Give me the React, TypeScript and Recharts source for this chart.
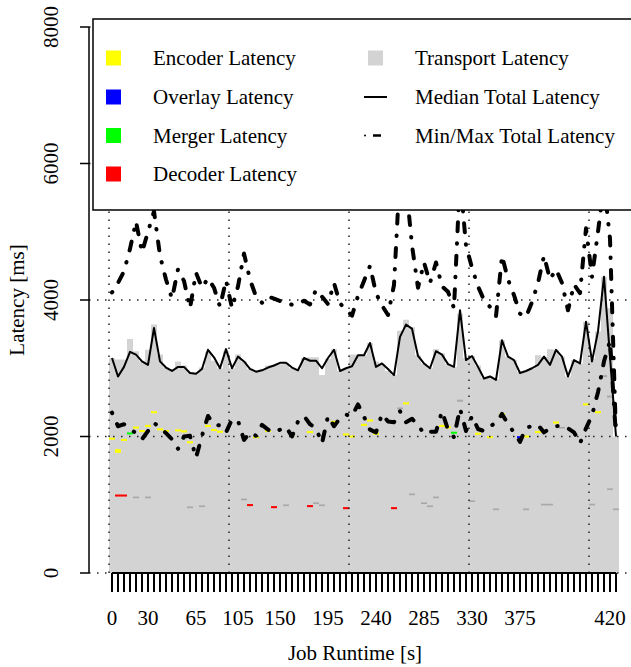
import { Bar, ComposedChart, Label, Line, ReferenceLine, XAxis, YAxis } from 'recharts';

const SERIF = "'Liberation Serif', 'Times New Roman', Times, serif";

// job runtime [s] of each sampling window (one bar each)
const runtimes = [
  0, 5, 10, 15, 20, 25, 30,
  34, 38, 43, 47, 52, 56, 61, 65,
  71, 77, 82, 88, 94, 99, 105,
  111, 118, 124, 131, 137, 144, 150,
  156, 161, 167, 172, 178, 184, 189, 195,
  201, 206, 212, 217, 223, 229, 234, 240,
  246, 251, 257, 262, 268, 273, 279, 285,
  291, 296, 302, 307, 313, 318, 324, 330,
  336, 341, 347, 352, 358, 364, 369, 375,
  378, 381, 384, 387, 390, 393, 396, 399, 402, 405, 408, 411, 414, 417, 420,
  423,
];

const transport = [
  3150, 3130, 3130, 3430, 3250, 3100, 3270, 3640, 3200, 3010,
  2990, 3100, 3040, 2940, 2930, 3010, 3240, 3110, 3000, 3250,
  3000, 3200, 3100, 2990, 2960, 2980, 3040, 3040, 3060, 3080,
  3000, 2980, 3150, 3160, 3160, 2900, 3140, 3280, 2960, 2990,
  3200, 3200, 3190, 3370, 3100, 3060, 2960, 2900, 3550, 3710,
  3600, 3190, 3070, 3000, 3280, 3220, 3060, 3020, 3800, 3150,
  3180, 3040, 2860, 2880, 2840, 3410, 3170, 3120, 2940, 2960,
  3000, 3190, 3170, 3280, 3270, 3170, 2880, 3120, 3070, 3680,
  3140, 3540, 4340, 3880, 2000,
];

const medianTotal = [
  3150, 2880, 3020, 3240, 3200, 3100, 3050, 3590, 3100, 3010,
  2960, 3020, 3020, 2930, 2920, 2990, 3270, 3160, 3000, 3280,
  3000, 3170, 3100, 2990, 2950, 2970, 3010, 3040, 3080, 3080,
  3010, 2970, 3150, 3110, 3110, 3000, 3150, 3270, 2960, 3000,
  3030, 3190, 3190, 3370, 3020, 3070, 2990, 2900, 3460, 3640,
  3580, 3180, 3070, 3000, 3250, 3200, 3060, 3020, 3850, 3120,
  3180, 3020, 2850, 2880, 2830, 3410, 3170, 3120, 2930, 2960,
  3000, 3050, 3170, 3050, 3270, 3170, 2880, 3120, 3070, 3680,
  3100, 3540, 4340, 3170, 2000,
];

const maxTotal = [
  4110, 4250, 4420, 4750, 5150, 4700, 5000, 5300, 4650, 4300,
  4020, 4450, 4280, 3880, 4400, 4180, 4320, 4180, 3900, 4290,
  3880, 4200, 4680, 4300, 4050, 3960, 4050, 4020, 3985, 3960,
  3930, 3940, 3990, 3935, 4150, 4050, 3940, 4250, 3950, 3860,
  3770, 4060, 4280, 4500, 4100, 3920, 3780, 4220, 5900, 5700,
  4800, 4180, 4550, 4250, 4550, 4200, 4120, 3880, 5800, 4800,
  4470, 4200, 4000, 3900, 3760, 4650, 4300, 4070, 3800, 3750,
  3970, 4250, 4650, 4300, 4450, 4250, 3850, 4230, 4100, 5050,
  4340, 5000, 5700, 4900, 2000,
];

const minTotal = [
  2350, 2150, 2180, 2110, 2050, 1960, 2080, 2200, 2130, 2050,
  1960, 1820, 2000, 2010, 1690, 2010, 2300, 2180, 2160, 2060,
  2250, 2230, 1950, 2060, 2010, 2170, 2100, 2060, 2100, 2140,
  2000, 2220, 2300, 2180, 2120, 1900, 2300, 2150, 2270, 2320,
  2300, 2470, 2290, 2100, 2060, 2330, 2220, 2210, 2370, 2210,
  2260, 2170, 2040, 2070, 2070, 2370, 2100, 1990, 2410, 2080,
  2300, 2110, 2080, 2150, 2200, 2330, 2180, 2060, 1920, 2130,
  2150, 2170, 2060, 2120, 2150, 2160, 2120, 2060, 1900, 2120,
  2310, 2650, 3100, 3400, 2000,
];

// [bar index, segment bottom, segment top] in ms
const encoderMarks = [
  [0, 1953, 1983], [1, 1760, 1815], [2, 1935, 1965], [4, 2115, 2145], [5, 2065, 2095],
  [6, 2140, 2170], [7, 2340, 2370], [8, 2090, 2120], [9, 2065, 2095], [11, 2075, 2105],
  [12, 2060, 2090], [13, 1900, 1930], [16, 2140, 2170], [17, 2080, 2110], [18, 2055, 2085],
  [24, 1975, 2005], [26, 2065, 2095], [30, 2015, 2045], [33, 2050, 2080], [37, 2200, 2230],
  [39, 2015, 2045], [40, 1985, 2015], [42, 2155, 2185], [43, 2220, 2250], [44, 2025, 2055],
  [49, 2470, 2500], [55, 2140, 2170], [56, 2120, 2150], [61, 2025, 2055], [63, 1975, 2005],
  [65, 2310, 2340], [69, 1985, 2015], [71, 2050, 2080], [74, 2190, 2220], [79, 2455, 2485],
  [81, 2340, 2370],
];
const overlayMarks = [[68, 1975, 2005]];
const mergerMarks = [[3, 2030, 2060], [57, 2040, 2070]];
const decoderMarks = [
  [1, 1120, 1150], [2, 1120, 1150], [23, 980, 1010], [27, 950, 980],
  [33, 965, 995], [39, 935, 965], [47, 935, 965],
];
const edgeMarksLow = [
  [4, 1095, 1120], [6, 1095, 1120], [13, 950, 975], [15, 965, 990], [22, 1065, 1090],
  [29, 980, 1005], [34, 1010, 1035], [35, 980, 1005], [50, 1140, 1165], [52, 1010, 1035],
  [53, 965, 990], [54, 1095, 1120], [60, 1040, 1065], [64, 920, 945], [69, 920, 945],
  [72, 990, 1015], [73, 990, 1015], [80, 990, 1015], [83, 1215, 1240], [84, 920, 945],
];
const edgeMarksHigh = [
  [48, 2400, 2425], [58, 2510, 2540], [75, 2115, 2140], [82, 2870, 2900], [83, 2570, 2600],
];

const xTickLabels = [0, 30, 65, 105, 150, 195, 240, 285, 330, 375, 420];
const yTicks = [0, 2000, 4000, 6000, 8000];
const gridBars = [0, 20, 40, 60, 80];

const markSeries = [
  { key: 'edgeLow', color: '#A9A9A9', marks: edgeMarksLow },
  { key: 'edgeHigh', color: '#A9A9A9', marks: edgeMarksHigh },
  { key: 'decoder', color: '#FF0000', marks: decoderMarks },
  { key: 'merger', color: '#00FF00', marks: mergerMarks },
  { key: 'overlay', color: '#0000FF', marks: overlayMarks },
  { key: 'encoder', color: '#FFFF00', marks: encoderMarks },
];

const legendSquares = [
  { name: 'Encoder Latency', color: '#FFFF00' },
  { name: 'Overlay Latency', color: '#0000FF' },
  { name: 'Merger Latency', color: '#00FF00' },
  { name: 'Decoder Latency', color: '#FF0000' },
];

const rows: Record<string, any>[] = runtimes.map((t, i) => ({
  t,
  transport: transport[i],
  median: medianTotal[i],
  max: maxTotal[i],
  min: minTotal[i],
}));
markSeries.forEach((s) => {
  s.marks.forEach(([i, lo, hi]) => {
    rows[i][s.key] = [lo, hi];
  });
});

const PAD = { left: 20, right: 20 };
const DOTTED = { stroke: '#222', strokeWidth: 1.5, strokeDasharray: '1.5 6.5' };
const FONT = { fontFamily: SERIF, fontSize: 21 };

function RuntimeTick({ x, y, payload }: any) {
  const show = xTickLabels.includes(payload.value);
  return (
    <g>
      <line x1={x} x2={x} y1={y} y2={y + 19} stroke="#000" strokeWidth={2} />
      {show && (
        <text x={x} y={y + 52} textAnchor="middle" style={FONT} fill="#000">
          {payload.value}
        </text>
      )}
    </g>
  );
}

function LatencyTick({ x, y, payload }: any) {
  const bx = x - 22;
  return (
    <text
      x={bx}
      y={y}
      transform={`rotate(-90, ${bx}, ${y})`}
      textAnchor="middle"
      style={FONT}
      fill="#000"
    >
      {payload.value}
    </text>
  );
}

function LegendBox() {
  const rowY = [58, 97, 135.5, 174];
  return (
    <svg width={631} height={667} style={{ position: 'absolute', left: 0, top: 0 }}>
      <rect x={93} y={19} width={560} height={191} fill="#fff" stroke="#000" strokeWidth={1.5} />
      {legendSquares.map((it, k) => (
        <g key={it.name}>
          <rect x={106} y={rowY[k] - 7.5} width={15} height={15} fill={it.color} />
          <text x={153} y={rowY[k] + 7} style={FONT} fill="#000">{it.name}</text>
        </g>
      ))}
      <rect x={368} y={rowY[0] - 7.5} width={15} height={15} fill="#D3D3D3" />
      <text x={415} y={rowY[0] + 7} style={FONT} fill="#000">Transport Latency</text>
      <line x1={364} x2={387} y1={rowY[1]} y2={rowY[1]} stroke="#000" strokeWidth={2} />
      <text x={415} y={rowY[1] + 7} style={FONT} fill="#000">Median Total Latency</text>
      <circle cx={365} cy={rowY[2]} r={1} fill="#000" />
      <line x1={373} x2={381} y1={rowY[2]} y2={rowY[2]} stroke="#000" strokeWidth={2.5} />
      <text x={415} y={rowY[2] + 7} style={FONT} fill="#000">Min/Max Total Latency</text>
    </svg>
  );
}

export default function App() {
  return (
    <div
      style={{
        position: 'absolute',
        left: 0,
        top: 0,
        width: 631,
        height: 667,
        overflow: 'hidden',
        background: '#fff',
        fontFamily: SERIF,
      }}
    >
      <ComposedChart
        width={650}
        height={667}
        data={rows}
        margin={{ top: 27, right: 11, bottom: 34, left: 0 }}
        barCategoryGap={0}
        barGap={0}
      >
        <XAxis
          dataKey="t"
          type="category"
          interval={0}
          height={60}
          padding={PAD}
          axisLine={false}
          tickLine={false}
          tickSize={0}
          tickMargin={0}
          tick={<RuntimeTick />}
        >
          <Label
            content={({ viewBox }: any) => (
              <text
                x={viewBox.x + viewBox.width / 2 - 9}
                y={viewBox.y + 87}
                textAnchor="middle"
                style={FONT}
                fill="#000"
              >
                Job Runtime [s]
              </text>
            )}
          />
        </XAxis>
        {markSeries.map((s) => (
          <XAxis key={s.key} xAxisId={s.key} dataKey="t" type="category" hide padding={PAD} />
        ))}
        <YAxis
          width={89}
          domain={[0, 8000]}
          ticks={yTicks}
          interval={0}
          tickSize={9}
          tickMargin={0}
          axisLine={{ stroke: '#000', strokeWidth: 1.5 }}
          tickLine={{ stroke: '#000', strokeWidth: 1.5 }}
          tick={<LatencyTick />}
        >
          <Label
            content={({ viewBox }: any) => {
              const lx = viewBox.x + 24;
              const ly = viewBox.y + viewBox.height / 2;
              return (
                <text
                  x={lx}
                  y={ly}
                  transform={`rotate(-90, ${lx}, ${ly})`}
                  textAnchor="middle"
                  style={FONT}
                  fill="#000"
                >
                  Latency [ms]
                </text>
              );
            }}
          />
        </YAxis>

        <Bar dataKey="transport" fill="#D3D3D3" isAnimationActive={false} />
        {markSeries.map((s) => (
          <Bar
            key={s.key}
            xAxisId={s.key}
            dataKey={s.key}
            fill={s.color}
            isAnimationActive={false}
          />
        ))}

        {yTicks.map((v) => (
          <ReferenceLine key={`h${v}`} y={v} {...DOTTED} />
        ))}
        {gridBars.map((i) => (
          <ReferenceLine key={`v${i}`} x={runtimes[i]} position="start" {...DOTTED} />
        ))}
        <ReferenceLine
          segment={[
            { x: runtimes[0], y: 0 },
            { x: runtimes[runtimes.length - 1], y: 0 },
          ]}
          stroke="#000"
          strokeWidth={2}
        />

        <Line
          dataKey="max"
          stroke="#000"
          strokeWidth={4}
          strokeDasharray="0.5 12 9 12"
          strokeLinecap="round"
          strokeLinejoin="round"
          dot={false}
          activeDot={false}
          isAnimationActive={false}
        />
        <Line
          dataKey="min"
          stroke="#000"
          strokeWidth={4}
          strokeDasharray="0.5 12 9 12"
          strokeLinecap="round"
          strokeLinejoin="round"
          dot={false}
          activeDot={false}
          isAnimationActive={false}
        />
        <Line
          dataKey="median"
          stroke="#000"
          strokeWidth={2}
          strokeLinejoin="round"
          dot={false}
          activeDot={false}
          isAnimationActive={false}
        />
      </ComposedChart>
      <LegendBox />
    </div>
  );
}
